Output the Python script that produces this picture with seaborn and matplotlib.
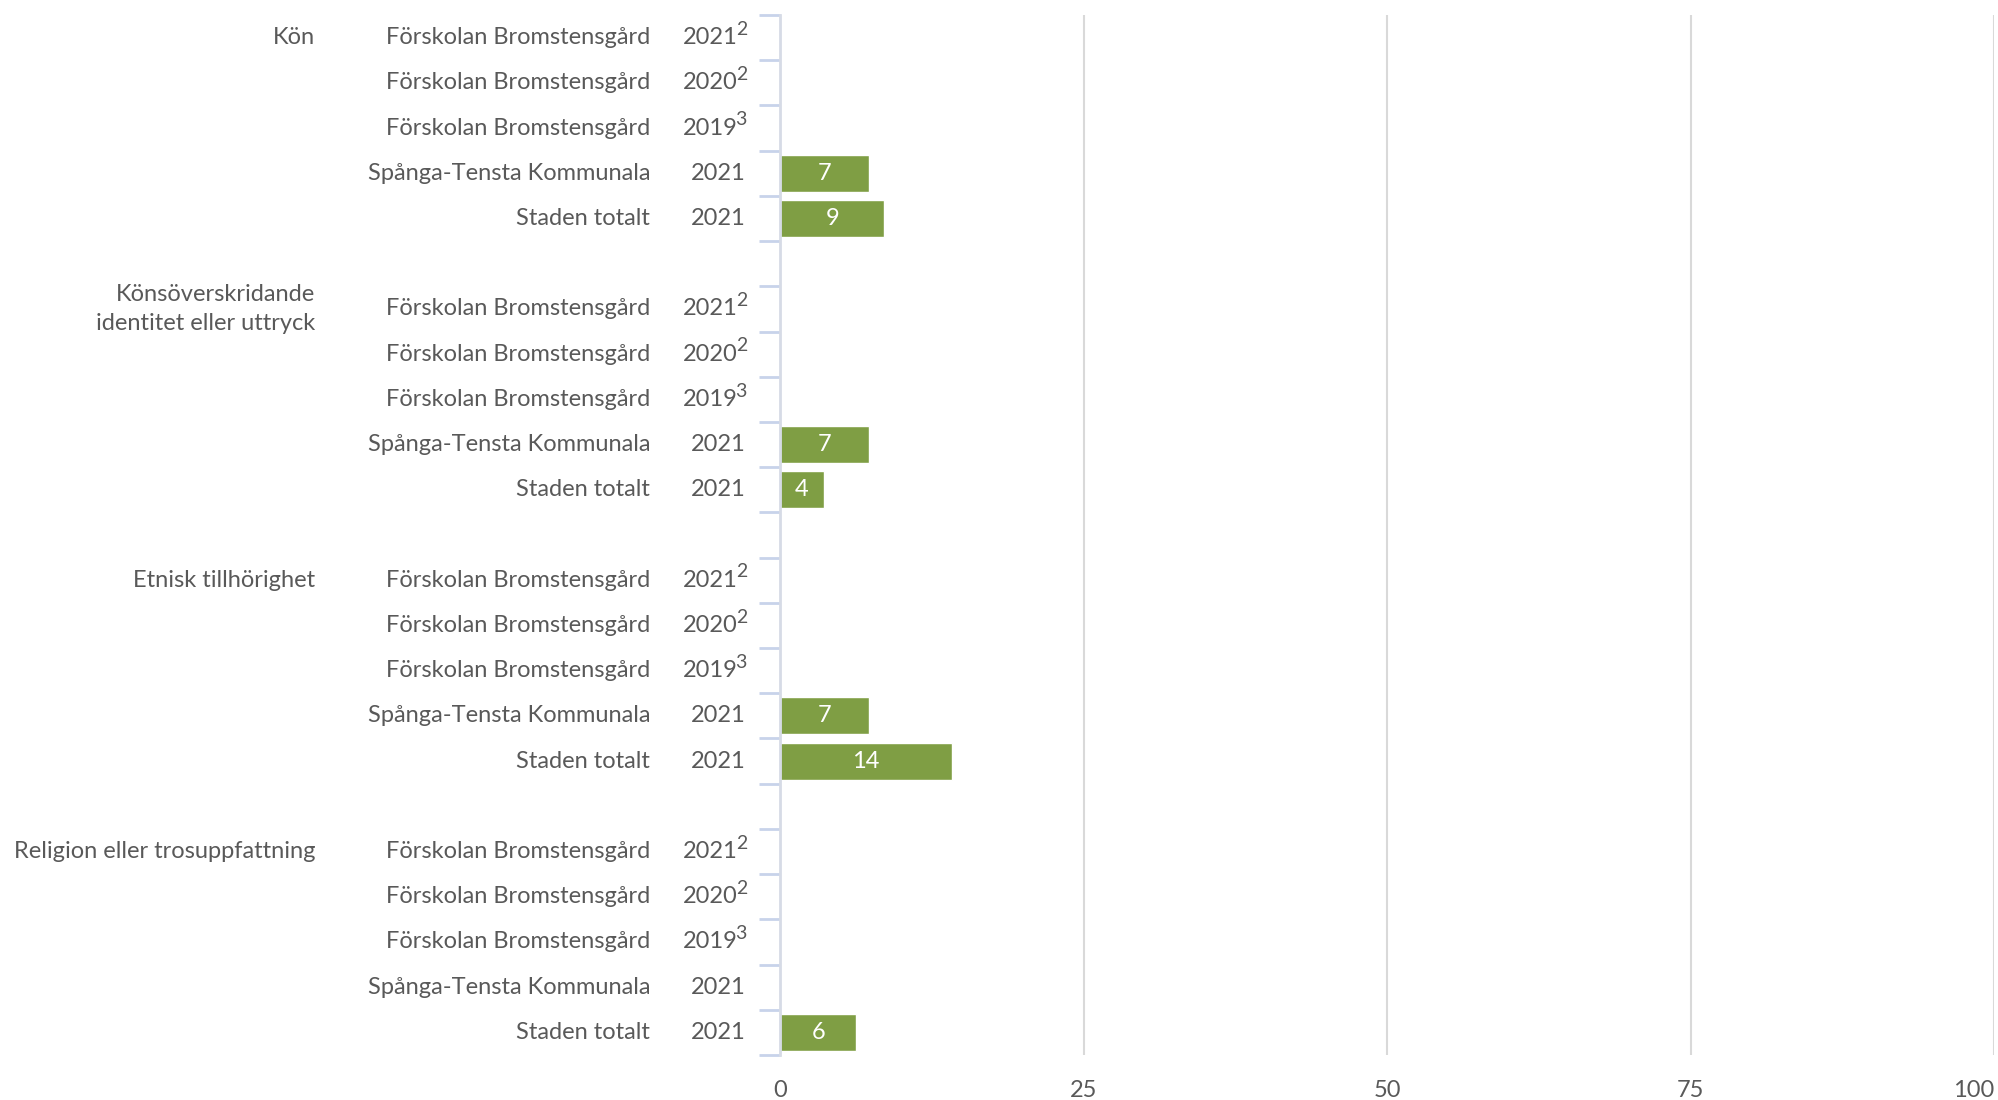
import numpy as np
import pandas as pd
import matplotlib
matplotlib.use("Agg")
import matplotlib.pyplot as plt
import matplotlib.transforms as mtransforms
import seaborn as sns

# data
groups = ["Kön", "Könsöverskridande\nidentitet eller uttryck", "Etnisk tillhörighet",
          "Religion eller trosuppfattning"]
units = ["Förskolan Bromstensgård", "Förskolan Bromstensgård", "Förskolan Bromstensgård",
         "Spånga-Tensta Kommunala", "Staden totalt"]
years = ["2021", "2020", "2019", "2021", "2021"]
footnotes = ["2", "2", "3", "", ""]
values_kon = [np.nan, np.nan, np.nan, 7.3, 8.6]
values_identitet = [np.nan, np.nan, np.nan, 7.3, 3.6]
values_etnisk = [np.nan, np.nan, np.nan, 7.3, 14.2]
values_religion = [np.nan, np.nan, np.nan, np.nan, 6.3]
all_values = [values_kon, values_identitet, values_etnisk, values_religion]

green = "#7f9e44"
text_col = "#595959"

sns.set_theme(style="white")
plt.rcParams['font.family'] = ['Lato', 'DejaVu Sans']

# slots: 5 rows per group plus an empty row between groups
order = []
rows = []
for g, vals in enumerate(all_values):
    if g > 0:
        order.append(f"gap{g}")
    for r, v in enumerate(vals):
        key = f"g{g}r{r}"
        order.append(key)
        if not np.isnan(v):
            rows.append({"slot": key, "value": v})
df = pd.DataFrame(rows)

fig = plt.figure(figsize=(19.98, 11), dpi=100)
ax = fig.add_axes([780 / 1998, 1 - 1055 / 1100, 1214 / 1998, 1040 / 1100])

sns.barplot(data=df, x="value", y="slot", order=order, color=green, saturation=1,
            width=0.82, orient="h", ax=ax)

n = len(order)
ax.set_ylim(n - 0.5, -0.5)
ax.set_xlim(0, 100)
ax.set_xlabel("")
ax.set_ylabel("")

# boundary ticks for each group
bounds = []
for g in range(4):
    s = g * 6
    bounds += [s - 0.5 + k for k in range(6)]
ax.set_yticks(bounds)
ax.set_yticklabels([])
ax.tick_params(axis="y", length=15, width=2, color="#c8d3ea", left=True)

fs = 17
ax.set_xticks([0, 25, 50, 75, 100])
ax.tick_params(axis="x", length=0, pad=18, labelsize=fs, labelcolor=text_col)
ax.get_xticklabels()[-1].set_horizontalalignment("right")
for x in [25, 50, 75, 100]:
    ax.axvline(x, color="#d9d9d9", lw=1.5, zorder=0)

for side in ["top", "right", "bottom"]:
    ax.spines[side].set_visible(False)
ax.spines["left"].set_color("#d6dbe6")
ax.spines["left"].set_linewidth(2)

# labels left of axis
trans = mtransforms.blended_transform_factory(fig.transFigure, ax.transData)
sup_trans = mtransforms.offset_copy(trans, fig=fig, x=0, y=6, units="points")
for g in range(4):
    base = g * 6
    ax.text(315 / 1998, base, groups[g], transform=trans, ha="right", va="center",
            multialignment="right", fontsize=fs, color=text_col, linespacing=1.5)
    for r in range(5):
        y = base + r
        ax.text(650 / 1998, y, units[r], transform=trans, ha="right", va="center",
                fontsize=fs, color=text_col)
        if footnotes[r]:
            ax.text(738 / 1998, y, years[r], transform=trans, ha="right", va="center",
                    fontsize=fs, color=text_col)
            ax.text(747 / 1998, y, footnotes[r], transform=sup_trans, ha="right",
                    va="center", fontsize=14, color=text_col)
        else:
            ax.text(746 / 1998, y, years[r], transform=trans, ha="right", va="center",
                    fontsize=fs, color=text_col)

# value labels inside bars
for _, row in df.iterrows():
    y = order.index(row["slot"])
    ax.text(row["value"] / 2, y, f"{round(row['value'])}", ha="center", va="center",
            fontsize=fs, color="white")

fig.savefig("out.png", dpi=100)
